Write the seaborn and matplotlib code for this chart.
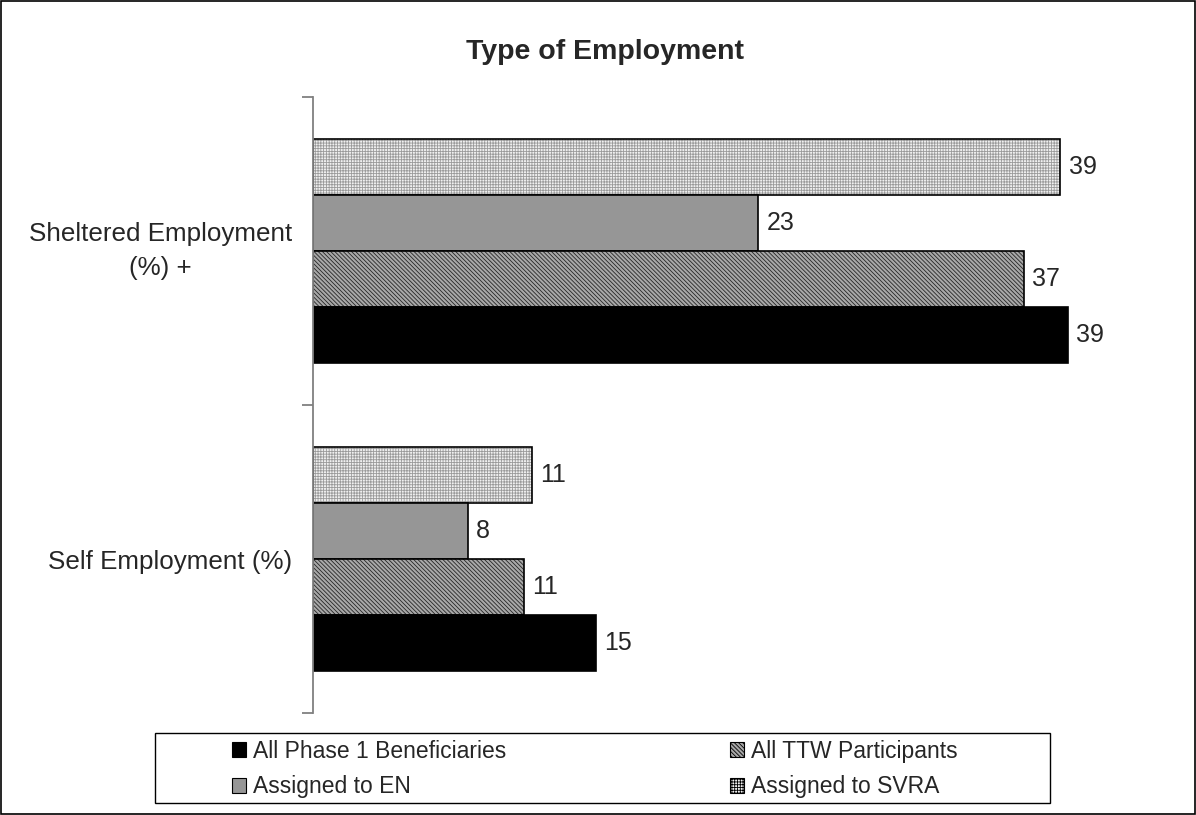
import matplotlib
matplotlib.use("Agg")
import matplotlib.pyplot as plt
import matplotlib.patches as mpatches
import seaborn as sns
import pandas as pd
import numpy as np

categories = ["Sheltered Employment\n(%) +", "Self Employment (%)"]
series = ["All Phase 1 Beneficiaries", "All TTW Participants", "Assigned to EN", "Assigned to SVRA"]
phase1 = [39.0, 14.6]
ttw = [36.7, 10.9]
en = [23.0, 8.0]
svra = [38.6, 11.3]
labels_phase1 = ["39", "15"]
labels_ttw = ["37", "11"]
labels_en = ["23", "8"]
labels_svra = ["39", "11"]

sns.set_style("white")
plt.rcParams['font.family'] = ['Liberation Sans', 'DejaVu Sans']
plt.rcParams['hatch.linewidth'] = 0.6

rows = []
for name, vals, labs in [(series[0], phase1, labels_phase1), (series[1], ttw, labels_ttw),
                         (series[2], en, labels_en), (series[3], svra, labels_svra)]:
    for c, v, l in zip(categories, vals, labs):
        rows.append({"cat": c, "series": name, "val": v, "lab": l})
df = pd.DataFrame(rows)

styles = {
    series[0]: dict(fc="#000000", hatch=None, hc="black"),
    series[1]: dict(fc="#a8a8a8", hatch="\\\\\\\\\\\\\\\\", hc="#262626"),
    series[2]: dict(fc="#969696", hatch=None, hc="black"),
    series[3]: dict(fc="#f0f0f0", hatch="++++++", hc="#9a9a9a"),
}
hue_order = [series[3], series[2], series[1], series[0]]

fig = plt.figure(figsize=(11.96, 8.15), dpi=100)
ax = fig.add_axes([313/1196, 102/815, (1150-313)/1196, (713-97)/815])

sns.barplot(data=df, y="cat", x="val", hue="series", hue_order=hue_order, order=categories,
            orient="h", width=0.727, ax=ax, legend=False, palette=[styles[s]["fc"] for s in hue_order])

for cont, s in zip(ax.containers, hue_order):
    st = styles[s]
    for p in cont.patches:
        p.set_facecolor(st["fc"])
        p.set_edgecolor("black")
        p.set_linewidth(1.2)
        if st["hatch"]:
            p.set_hatch(st["hatch"])
            p._hatch_color = matplotlib.colors.to_rgba(st["hc"])
    labs = [df[(df.series == s) & (df.cat == c)].lab.iloc[0] for c in categories]
    ax.bar_label(cont, labels=labs, padding=6, fontsize=18)

ax.set_xlim(0, (1150-313)/19.36)
ax.set_ylim(1.5, -0.5)
ax.set_xlabel("")
ax.set_ylabel("")
ax.set_xticks([])
for sp in ["top", "right", "bottom"]:
    ax.spines[sp].set_visible(False)
ax.spines["left"].set_color("#808080")
ax.spines["left"].set_linewidth(1.3)
ax.set_yticks([0, 1])
tls = ax.set_yticklabels(categories, fontsize=18.7, ha="right", multialignment="center",
                         linespacing=1.55)
tls[0].set_va("center")
ax.tick_params(axis="y", which="major", length=0, pad=15)
ax.set_yticks([-0.5, 0.5, 1.5], minor=True)
ax.tick_params(axis="y", which="minor", length=8, width=1.3, color="#808080", left=True)

fig.text(605/1196, 1 - 52/815, "Type of Employment", ha="center", va="center",
         fontsize=20.5, fontweight="bold")

handles = []
for s in series:
    st = styles[s]
    h = mpatches.Patch(facecolor=st["fc"], edgecolor="black", linewidth=0.8,
                       hatch=st["hatch"])
    handles.append(h)
order = [0, 2, 1, 3]
leg = fig.legend([handles[i] for i in order], [series[i] for i in order], ncol=2,
                 loc="center left", bbox_to_anchor=(232/1196, 1 - 769/815), frameon=False,
                 fontsize=16.5,
                 handlelength=0.6, handleheight=0.6, handletextpad=0.3,
                 columnspacing=9.8, borderpad=0.0, labelspacing=0.55,
                 borderaxespad=0)

fig.add_artist(mpatches.Rectangle((155/1196, 1 - 803/815), (1050-155)/1196, 70/815,
                                  transform=fig.transFigure, fill=False,
                                  edgecolor="black", linewidth=1.0))

fig.add_artist(mpatches.Rectangle((0.001, 0.001), 0.998, 0.998, transform=fig.transFigure,
                                  fill=False, edgecolor="black", linewidth=1.2))

fig.savefig("out.png", dpi=100)
